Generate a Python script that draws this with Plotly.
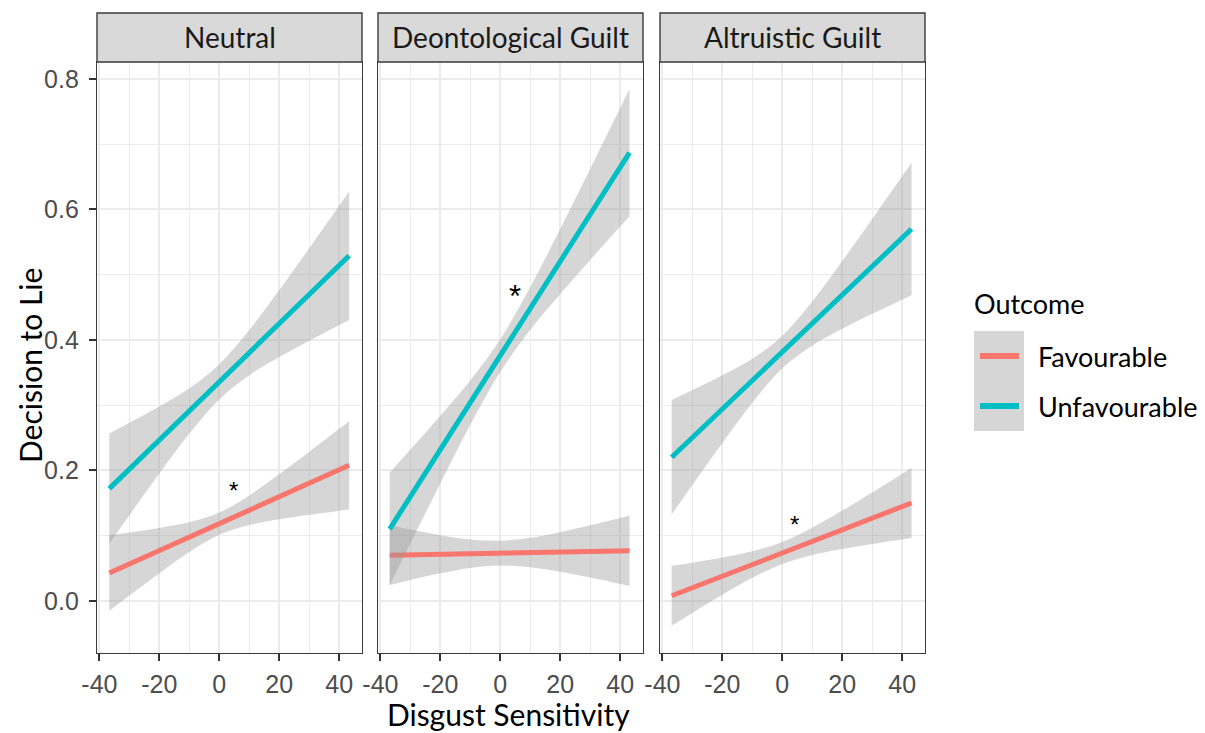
import plotly.graph_objects as go

# ---------------- data ----------------
panels = ["Neutral", "Deontological Guilt", "Altruistic Guilt"]
outcomes = ["Favourable", "Unfavourable"]

x_neutral = [-36.7, -30, -20, -10, 0, 10, 20, 30, 43.3]
x_deont = [-36.9, -30, -20, -10, 0, 10, 20, 30, 43.1]
x_altru = [-36.9, -30, -20, -10, 0, 10, 20, 30, 43.1]

neutral_fav_fit = [0.0426, 0.0564, 0.0771, 0.0976, 0.1183, 0.1389, 0.1596, 0.1803, 0.2077]
neutral_fav_hi = [0.1006, 0.1048, 0.1118, 0.1203, 0.1353, 0.1616, 0.1943, 0.2287, 0.2753]
neutral_fav_lo = [-0.0154, 0.0080, 0.0424, 0.0749, 0.1013, 0.1162, 0.1249, 0.1319, 0.1401]
neutral_unf_fit = [0.172, 0.2019, 0.2465, 0.2911, 0.3358, 0.3804, 0.4250, 0.4697, 0.529]
neutral_unf_hi = [0.2566, 0.2728, 0.2979, 0.3258, 0.3628, 0.4151, 0.4764, 0.5406, 0.6274]
neutral_unf_lo = [0.0874, 0.1310, 0.1951, 0.2564, 0.3088, 0.3457, 0.3736, 0.3988, 0.4306]

deont_fav_fit = [0.0699, 0.0705, 0.0714, 0.0722, 0.0731, 0.0740, 0.0748, 0.0757, 0.0768]
deont_fav_hi = [0.1157, 0.1092, 0.1007, 0.0940, 0.0921, 0.0966, 0.1052, 0.1157, 0.1308]
deont_fav_lo = [0.0241, 0.0318, 0.0421, 0.0504, 0.0541, 0.0514, 0.0444, 0.0357, 0.0228]
deont_unf_fit = [0.110, 0.1598, 0.2319, 0.3040, 0.3761, 0.4483, 0.5204, 0.5925, 0.687]
deont_unf_hi = [0.1965, 0.2318, 0.2837, 0.3381, 0.4011, 0.4810, 0.5703, 0.6624, 0.7846]
deont_unf_lo = [0.0235, 0.0878, 0.1801, 0.2699, 0.3511, 0.4156, 0.4705, 0.5226, 0.5894]

altru_fav_fit = [0.0077, 0.0200, 0.0378, 0.0556, 0.0733, 0.0911, 0.1089, 0.1266, 0.150]
altru_fav_hi = [0.0536, 0.0585, 0.0663, 0.0759, 0.0903, 0.1120, 0.1383, 0.1661, 0.2037]
altru_fav_lo = [-0.0382, -0.0185, 0.0093, 0.0353, 0.0563, 0.0702, 0.0795, 0.0871, 0.0963]
altru_unf_fit = [0.220, 0.2502, 0.2939, 0.3374, 0.3814, 0.4252, 0.4689, 0.5127, 0.570]
altru_unf_hi = [0.3077, 0.3230, 0.3459, 0.3712, 0.4064, 0.4590, 0.5209, 0.5855, 0.6715]
altru_unf_lo = [0.1323, 0.1774, 0.2419, 0.3036, 0.3564, 0.3914, 0.4169, 0.4399, 0.4685]

# significance markers
star_x = [4.8, 4.8, 4.2]
star_y = [0.178, 0.479, 0.126]
star_size = [24, 31, 24]

x_ticks = [-40, -20, 0, 20, 40]
y_ticks = [0.0, 0.2, 0.4, 0.6, 0.8]
y_tick_labels = ["0.0", "0.2", "0.4", "0.6", "0.8"]

# ---------------- styling ----------------
colors = {"Favourable": "#F8766D", "Unfavourable": "#00BFC4"}
ribbon = "rgba(153,153,153,0.4)"
TXT_FONT = "Lato"
NUM_FONT = "Liberation Sans"

# the page body adds an 8px offset; figure is sized so it ends at the window edge
W, H = 1197, 725
ML, MR, MT, MB = 89, 280, 5, 80
PW, PH = W - ML - MR, H - MT - MB
OFF = 8  # page offset in the screenshot


def px_x(px):
    # px: screenshot pixel column
    return (px - OFF - ML) / PW


def px_y(py):
    # py: screenshot pixel row
    return (H - MB - (py - OFF)) / PH


panel_px = [(97, 362), (378, 643), (660, 925)]
panel_top_px = 62
ydom = [0, px_y(panel_top_px)]

data = {
    "Neutral": (x_neutral,
                (neutral_fav_fit, neutral_fav_hi, neutral_fav_lo),
                (neutral_unf_fit, neutral_unf_hi, neutral_unf_lo)),
    "Deontological Guilt": (x_deont,
                            (deont_fav_fit, deont_fav_hi, deont_fav_lo),
                            (deont_unf_fit, deont_unf_hi, deont_unf_lo)),
    "Altruistic Guilt": (x_altru,
                         (altru_fav_fit, altru_fav_hi, altru_fav_lo),
                         (altru_unf_fit, altru_unf_hi, altru_unf_lo)),
}

fig = go.Figure()

for i, p in enumerate(panels):
    xs, fav, unf = data[p]
    ax = "" if i == 0 else str(i + 1)
    for name, (fit, hi, lo) in zip(outcomes, (fav, unf)):
        fig.add_trace(go.Scatter(x=xs, y=lo, mode="lines", line=dict(width=0, shape="spline"),
                                 xaxis="x" + ax, yaxis="y" + ax, showlegend=False,
                                 hoverinfo="skip"))
        fig.add_trace(go.Scatter(x=xs, y=hi, mode="lines", line=dict(width=0, shape="spline"),
                                 fill="tonexty", fillcolor=ribbon,
                                 xaxis="x" + ax, yaxis="y" + ax, showlegend=False,
                                 hoverinfo="skip"))
        fig.add_trace(go.Scatter(x=xs, y=fit, mode="lines", name=name,
                                 line=dict(color=colors[name], width=5),
                                 xaxis="x" + ax, yaxis="y" + ax, showlegend=False))

layout = dict(
    width=W, height=H,
    margin=dict(l=ML, r=MR, t=MT, b=MB),
    paper_bgcolor="white", plot_bgcolor="white",
    showlegend=False,
    shapes=[], annotations=[],
)

grid_major = "#EBEBEB"
for i, p in enumerate(panels):
    ax = "" if i == 0 else str(i + 1)
    x0, x1 = panel_px[i]
    dom = [px_x(x0), px_x(x1)]
    layout["xaxis" + ax] = dict(
        domain=dom, range=[-40.8, 47.6], anchor="y" + ax,
        tickvals=x_ticks, ticktext=[str(v) for v in x_ticks],
        ticks="outside", ticklen=7, tickwidth=1.5, tickcolor="#333333",
        tickfont=dict(family=NUM_FONT, size=25, color="#4D4D4D"),
        showgrid=True, gridcolor=grid_major, gridwidth=1.9,
        minor=dict(dtick=10, tick0=0, showgrid=True, gridcolor=grid_major, gridwidth=1.3, ticks=""),
        showline=True, mirror=True, linecolor="#3A3A3A", linewidth=1.4,
        zeroline=False, ticklabelstandoff=2,
    )
    layout["yaxis" + ax] = dict(
        domain=ydom, range=[-0.080, 0.826], anchor="x" + ax,
        tickvals=y_ticks, ticktext=y_tick_labels,
        ticks="outside" if i == 0 else "", ticklen=7, tickwidth=1.5, tickcolor="#333333",
        showticklabels=(i == 0),
        tickfont=dict(family=NUM_FONT, size=25, color="#4D4D4D"),
        showgrid=True, gridcolor=grid_major, gridwidth=1.9,
        minor=dict(dtick=0.1, tick0=0, showgrid=True, gridcolor=grid_major, gridwidth=1.3, ticks=""),
        showline=True, mirror=True, linecolor="#3A3A3A", linewidth=1.4,
        zeroline=False, ticklabelstandoff=5,
    )
    # facet strip
    layout["shapes"].append(dict(type="rect", xref="paper", yref="paper",
                                 x0=dom[0], x1=dom[1], y0=ydom[1], y1=px_y(13),
                                 fillcolor="#D9D9D9", line=dict(color="#3A3A3A", width=1.4)))
    layout["annotations"].append(dict(text=p, xref="paper", yref="paper",
                                      x=(dom[0] + dom[1]) / 2, y=px_y(37),
                                      showarrow=False, xanchor="center", yanchor="middle",
                                      font=dict(family=TXT_FONT, size=28, color="#1A1A1A")))
    # significance asterisk
    layout["annotations"].append(dict(text="*", xref="x" + ax, yref="y" + ax,
                                      x=star_x[i], y=star_y[i], showarrow=False,
                                      xanchor="center", yanchor="middle",
                                      yshift=-0.25 * star_size[i],
                                      font=dict(family=NUM_FONT, size=star_size[i], color="black")))

# axis titles
layout["annotations"].append(dict(text="Disgust Sensitivity", xref="paper", yref="paper",
                                  x=px_x(508), y=px_y(714), showarrow=False,
                                  xanchor="center", yanchor="middle",
                                  font=dict(family=TXT_FONT, size=30, color="black")))
layout["annotations"].append(dict(text="Decision to Lie", xref="paper", yref="paper",
                                  x=px_x(30), y=px_y(366), showarrow=False, textangle=-90,
                                  xanchor="center", yanchor="middle",
                                  font=dict(family=TXT_FONT, size=30, color="black")))

# legend (drawn as in ggplot: grey keys with coloured lines)
layout["annotations"].append(dict(text="Outcome", xref="paper", yref="paper",
                                  x=px_x(972), y=px_y(303), showarrow=False,
                                  xanchor="left", yanchor="middle",
                                  font=dict(family=TXT_FONT, size=27, color="black")))
layout["shapes"].append(dict(type="rect", xref="paper", yref="paper",
                             x0=px_x(974), x1=px_x(1024), y0=px_y(431), y1=px_y(331),
                             fillcolor="#D6D6D6", line=dict(width=0)))
for name, ypx in zip(outcomes, (356, 406)):
    layout["shapes"].append(dict(type="line", xref="paper", yref="paper",
                                 x0=px_x(980), x1=px_x(1019), y0=px_y(ypx), y1=px_y(ypx),
                                 line=dict(color=colors[name], width=6)))
    layout["annotations"].append(dict(text=name, xref="paper", yref="paper",
                                      x=px_x(1036), y=px_y(ypx), showarrow=False,
                                      xanchor="left", yanchor="middle",
                                      font=dict(family=TXT_FONT, size=27, color="black")))

fig.update_layout(**layout)
fig.write_html("out.html")
